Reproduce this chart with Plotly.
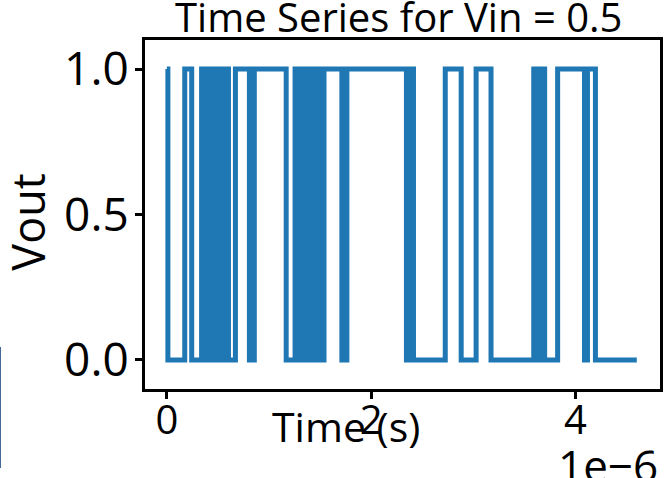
import plotly.graph_objects as go

# Switching instants of the comparator output (microseconds) and the level held after each
switch_time_us = [0.000, 0.010, 0.175, 0.243, 0.340, 0.370, 0.399, 0.418, 0.448, 0.477,
                  0.496, 0.525, 0.555, 0.603, 0.671, 0.808, 0.856, 1.168,
                  1.255, 1.285, 1.314, 1.343, 1.372, 1.401, 1.421, 1.440, 1.470, 1.489,
                  1.538, 1.713, 1.762, 2.345, 2.375, 2.414, 2.725, 2.881, 3.027, 3.173,
                  3.591, 3.611, 3.630, 3.650, 3.669, 3.698, 3.825, 4.088, 4.117, 4.195,
                  4.600]
vout_level = [1, 0, 1, 0, 1, 0, 1, 0, 1, 0,
              1, 0, 1, 0, 1, 0, 1, 0,
              1, 0, 1, 0, 1, 0, 1, 0, 1, 0,
              1, 0, 1, 0, 1, 0, 1, 0, 1, 0,
              1, 0, 1, 0, 1, 0, 1, 0, 1, 0,
              0]

x_tick_vals = [0, 2e-6, 4e-6]
x_tick_text = ["0", "2", "4"]
y_tick_vals = [0.0, 0.5, 1.0]
y_tick_text = ["0.0", "0.5", "1.0"]

time_s = [t * 1e-6 for t in switch_time_us]

FONT = "Open Sans"
fig = go.Figure()
fig.add_trace(go.Scatter(
    x=time_s, y=vout_level, mode="lines", line_shape="hv",
    line=dict(color="#1f77b4", width=5), hoverinfo="skip",
))

axis_style = dict(
    showline=True, linewidth=3, linecolor="black", mirror=True,
    ticks="outside", ticklen=7, tickwidth=2.5, tickcolor="black",
    showgrid=False, zeroline=False,
)
fig.update_xaxes(range=[-0.214e-6, 4.827e-6], tickmode="array",
                 tickvals=x_tick_vals, ticktext=x_tick_text,
                 tickfont=dict(family=FONT, size=40, color="black"),
                 ticklabelstandoff=-13, **axis_style)
fig.update_yaxes(range=[-0.1, 1.1], tickmode="array",
                 tickvals=y_tick_vals, ticktext=y_tick_text,
                 tickfont=dict(family=FONT, size=46, color="black"),
                 ticklabelstandoff=-3, **axis_style)

fig.update_layout(
    width=666, height=478,
    margin=dict(l=145, r=3, t=40, b=89),
    plot_bgcolor="white", paper_bgcolor="white",
    showlegend=False,
    font=dict(family=FONT, size=40, color="black"),
)

def label(text, x, y, size=40, **kw):
    fig.add_annotation(text=text, x=x, y=y, xref="paper", yref="paper",
                       showarrow=False, font=dict(family=FONT, size=size, color="black"), **kw)

label("Time Series for Vin = 0.5", 0.492, 1.066, xanchor="center", yanchor="middle")
label("Time (s)", 0.39, -0.106, size=41, xanchor="center", yanchor="middle")
label("1e\u22126", 1.0, -0.2178, size=44, xanchor="right", yanchor="middle")
label("Vout", -0.2298, 0.4785, size=45, xanchor="center", yanchor="middle", textangle=-90)

# thin navy strip along the left edge
fig.add_shape(type="line", xref="paper", yref="paper",
              x0=-0.282, x1=-0.282, y0=0.1203, y1=-0.2264,
              line=dict(color="#0b3c7d", width=2))

fig.write_html("out.html")
